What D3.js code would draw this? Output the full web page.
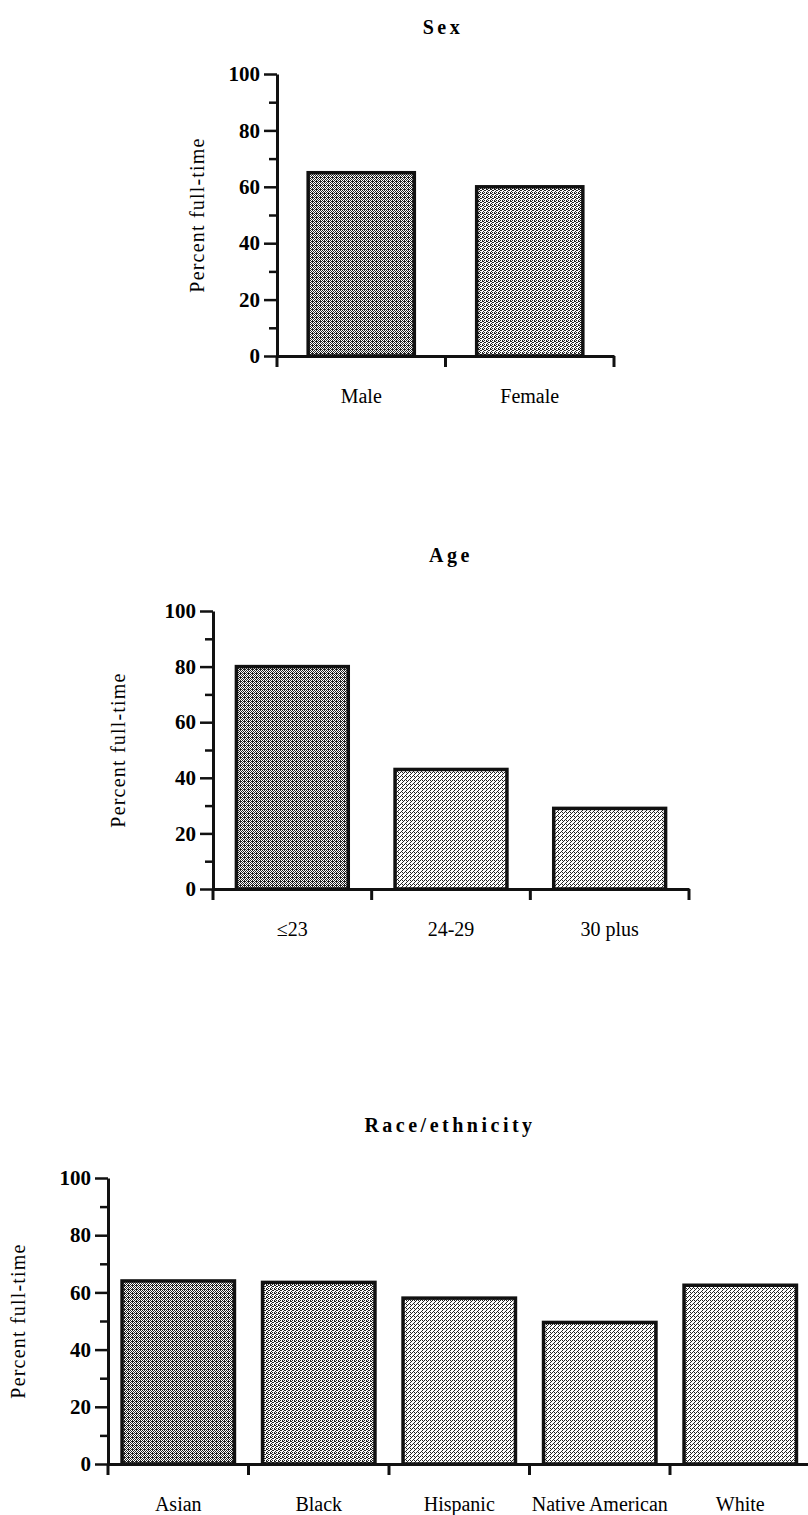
<!DOCTYPE html>
<html><head><meta charset="utf-8">
<script src="https://cdn.jsdelivr.net/npm/d3@7"></script>
<style>
body{margin:0;background:#fff}
svg{display:block}
text{font-family:"Liberation Serif","Times New Roman",serif;fill:#000}
</style>
</head><body>
<script>
// ---- data ----
const sexCategories = ["Male", "Female"];
const sexValues = [65, 60];
const ageCategories = ["\u226423", "24-29", "30 plus"];
const ageValues = [80, 43, 29];
const raceCategories = ["Asian", "Black", "Hispanic", "Native American", "White"];
const raceValues = [64, 63.5, 58, 49.5, 62.5];
const yTicks = [0, 20, 40, 60, 80, 100];
const yMinorTicks = [10, 30, 50, 70, 90];
const yLabel = "Percent full-time";
const titles = ["Sex", "Age", "Race/ethnicity"];

// ---- layout / style ----
const W = 808, H = 1515;
const svg = d3.select("body").append("svg").attr("width", W).attr("height", H);
const defs = svg.append("defs");

// stipple patterns
function makePattern(id, pts, size) {
  const p = defs.append("pattern").attr("id", id).attr("patternUnits", "userSpaceOnUse")
    .attr("width", size).attr("height", size);
  p.append("rect").attr("width", size).attr("height", size).attr("fill", "#fff");
  pts.forEach(([x, y]) => p.append("rect").attr("x", x).attr("y", y).attr("width", 1).attr("height", 1).attr("fill", "#222"));
}
makePattern("dark", [[0,0],[2,0],[1,1],[3,1],[0,2],[2,2],[1,3],[3,3],[0,1]], 4);
makePattern("medium", [[0,0],[2,1],[1,2],[3,3],[2,0],[0,2],[3,1]], 4);
makePattern("light", [[0,0],[3,1],[2,2],[1,3],[2,0]], 4);

const layouts = [
  {cats: sexCategories, vals: sexValues, title: titles[0], x: [277, 614], y: [356, 74], pad: 0.37,
   titleX: 443, titleY: 34, labelX: 197, shades: ["dark", "medium"]},
  {cats: ageCategories, vals: ageValues, title: titles[1], x: [213, 689], y: [889, 611], pad: 0.295,
   titleX: 451, titleY: 562, labelX: 118, shades: ["dark", "light", "light"]},
  {cats: raceCategories, vals: raceValues, title: titles[2], x: [108, 810.5], y: [1464, 1178], pad: 0.2,
   titleX: 450, titleY: 1132, labelX: 18, shades: ["dark", "medium", "light", "light", "light"]}
];

layouts.forEach(L => {
  const g = svg.append("g");
  const x = d3.scaleBand().domain(L.cats).range(L.x).paddingInner(L.pad).paddingOuter(L.pad / 2);
  const y = d3.scaleLinear().domain([0, 100]).range(L.y);

  // bars
  g.selectAll("rect.bar").data(L.cats).join("rect").attr("class", "bar")
    .attr("x", d => x(d)).attr("width", x.bandwidth())
    .attr("y", (d, i) => y(L.vals[i])).attr("height", (d, i) => y(0) - y(L.vals[i]))
    .attr("fill", (d, i) => `url(#${L.shades[i]})`)
    .attr("stroke", "#111").attr("stroke-width", 3.5);

  // y axis major
  const ya = g.append("g").attr("transform", `translate(${L.x[0]},0)`)
    .call(d3.axisLeft(y).tickValues(yTicks).tickSize(13).tickSizeOuter(0).tickPadding(4));
  ya.select(".domain").attr("stroke-width", 3).attr("stroke", "#111");
  ya.selectAll(".tick line").attr("stroke-width", 2.5).attr("stroke", "#111");
  ya.selectAll(".tick text").attr("font-size", 21).attr("font-weight", "bold")
    .attr("fill", "#000").style("font-family", "'Liberation Serif',serif");
  // y axis minor
  const ym = g.append("g").attr("transform", `translate(${L.x[0]},0)`)
    .call(d3.axisLeft(y).tickValues(yMinorTicks).tickSize(8).tickFormat(""));
  ym.select(".domain").remove();
  ym.selectAll(".tick line").attr("stroke-width", 2.5).attr("stroke", "#111");
  // y axis extension below zero
  g.append("line").attr("x1", L.x[0]).attr("x2", L.x[0]).attr("y1", y(0)).attr("y2", y(0) + 11)
    .attr("stroke", "#111").attr("stroke-width", 3);

  // x axis
  const xa = g.append("g").attr("transform", `translate(0,${y(0)})`)
    .call(d3.axisBottom(x).tickSize(0).tickSizeOuter(0).tickPadding(33));
  xa.select(".domain").attr("stroke-width", 3).attr("stroke", "#111");
  xa.selectAll(".tick text").attr("font-size", 20).attr("fill", "#000")
    .style("font-family", "'Liberation Serif',serif");
  // category boundary ticks
  const bounds = d3.range(L.cats.length + 1).map(i => L.x[0] + i * x.step());
  g.selectAll("line.bt").data(bounds.slice(1)).join("line").attr("class", "bt")
    .attr("x1", d => d).attr("x2", d => d).attr("y1", y(0)).attr("y2", y(0) + 11)
    .attr("stroke", "#111").attr("stroke-width", 3);

  // title
  g.append("text").attr("x", L.titleX).attr("y", L.titleY).attr("text-anchor", "middle")
    .attr("font-size", 20).attr("font-weight", "bold").attr("letter-spacing", 3.5).text(L.title);
  // y label
  g.append("text").attr("transform", `translate(${L.labelX},${(y(0) + y(100)) / 2}) rotate(-90)`)
    .attr("text-anchor", "middle").attr("dominant-baseline", "central")
    .attr("font-size", 20).attr("letter-spacing", 1.2).text(yLabel);
});
</script>
</body></html>
